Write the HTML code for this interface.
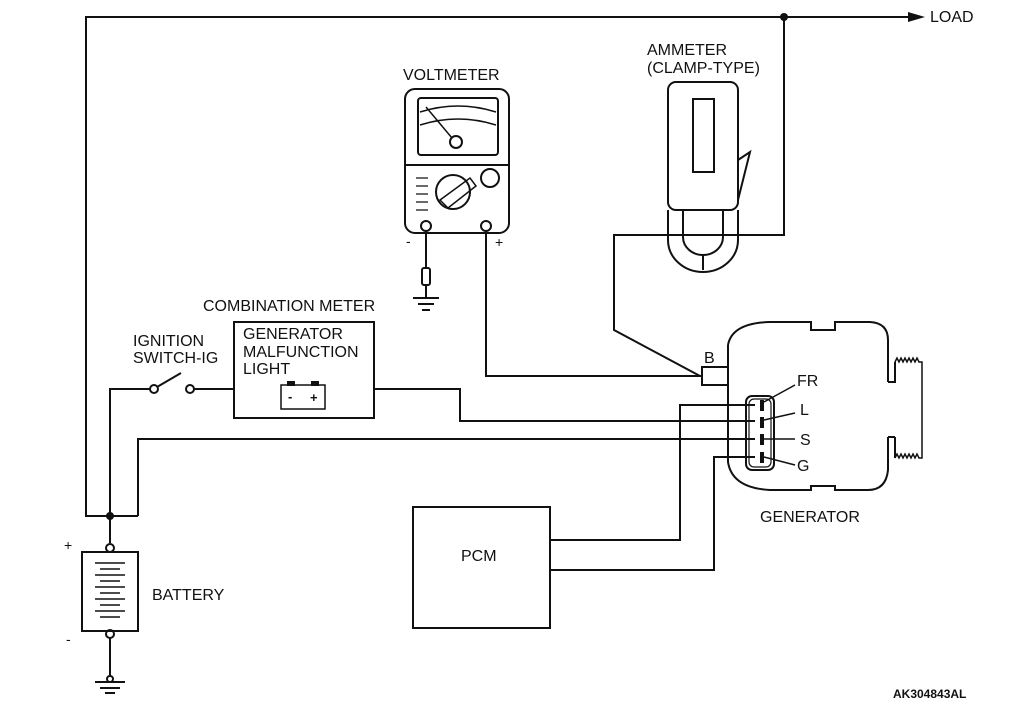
<!DOCTYPE html>
<html><head><meta charset="utf-8"><style>
body{margin:0;background:#fff;}
svg{display:block;font-family:"Liberation Sans",sans-serif;}
text{font-size:16px;fill:#111;}
</style></head><body>
<svg width="1010" height="707" viewBox="0 0 1010 707" xmlns="http://www.w3.org/2000/svg">
<g fill="none" stroke="#111" stroke-width="2">
<polyline points="110,516 86,516 86,17 910,17"/>
<polyline points="784,17 784,235 614,235 614,330 700,376"/>
<line x1="110" y1="516" x2="138" y2="516"/>
<line x1="110" y1="516" x2="110" y2="543"/>
<polyline points="110,516 110,389 150,389"/>
<polyline points="138,516 138,439 755,439"/>
<circle cx="154" cy="389" r="4"/>
<line x1="157" y1="387" x2="181" y2="373"/>
<circle cx="190" cy="389" r="4"/>
<line x1="194" y1="389" x2="234" y2="389"/>
<rect x="234" y="322" width="140" height="96"/>
<polyline points="374,389 460,389 460,421 755,421"/>
<rect x="281" y="385" width="44" height="24" stroke-width="1.5"/>
<rect x="405" y="89" width="104" height="144" rx="10"/>
<rect x="418" y="98" width="80" height="57" rx="3"/>
<line x1="405" y1="165" x2="509" y2="165"/>
<path d="M420 112 Q458 100 496 112" stroke-width="1.5"/>
<path d="M420 125 Q458 113 496 125" stroke-width="1.5"/>
<line x1="426" y1="107" x2="452" y2="138" stroke-width="1.5"/>
<circle cx="456" cy="142" r="6"/>
<circle cx="453" cy="192" r="17"/>
<circle cx="490" cy="178" r="9"/>
<path d="M440 200 L470 178 L476 186 L448 208 Z" stroke-width="1.5"/>
<path d="M416 178 h12 M416 186 h12 M416 194 h12 M416 202 h12 M416 210 h12" stroke-width="1.2"/>
<circle cx="426" cy="226" r="5"/>
<circle cx="486" cy="226" r="5"/>
<line x1="426" y1="231" x2="426" y2="268"/>
<rect x="422" y="268" width="8" height="17" rx="2"/>
<line x1="426" y1="285" x2="426" y2="298"/>
<line x1="413" y1="298" x2="439" y2="298"/>
<line x1="418" y1="304" x2="434" y2="304"/>
<line x1="422" y1="310" x2="430" y2="310"/>
<polyline points="486,231 486,376 702,376"/>
<rect x="668" y="82" width="70" height="128" rx="8"/>
<rect x="693" y="99" width="21" height="73"/>
<polyline points="738,160 750,152 738,200"/>
<path d="M668 210 V240 A35 32 0 0 0 738 240 V210"/>
<path d="M683 210 V237 A20 18 0 0 0 723 237 V210"/>
<line x1="703" y1="255" x2="703" y2="270"/>
<path d="M728 345 Q732 323 770 322 H811 V330 H835 V322 H870 Q888 323 888 340 V382 M888 437 V470 Q886 490 868 490 H835 V486 H811 V490 H770 Q732 488 728 462 V345"/>
<path d="M888 382 H895 V362 M895 437 H888 M895 437 V458" />
<path d="M895 362 l2 -4 l2 4 l2 -4 l2 4 l2 -4 l2 4 l2 -4 l2 4 l2 -4 l2 4 l2 -4 l2 4 h3 V458 h-3 l-2 -4 l-2 4 l-2 -4 l-2 4 l-2 -4 l-2 4 l-2 -4 l-2 4 l-2 -4 l-2 4 l-2 -4 l-2 4" stroke-width="1.5"/>
<rect x="702" y="367" width="26" height="18"/>
<rect x="746" y="396" width="28" height="74" rx="6"/>
<rect x="749" y="399" width="22" height="68" rx="5" stroke-width="1.2"/>
<g stroke-width="4"><line x1="762" y1="400" x2="762" y2="411"/><line x1="762" y1="417" x2="762" y2="428"/><line x1="762" y1="434" x2="762" y2="445"/><line x1="762" y1="452" x2="762" y2="463"/></g>
<line x1="764" y1="402" x2="795" y2="385" stroke-width="1.5"/>
<line x1="764" y1="420" x2="795" y2="413" stroke-width="1.5"/>
<line x1="764" y1="439" x2="795" y2="439" stroke-width="1.5"/>
<line x1="764" y1="457" x2="795" y2="465" stroke-width="1.5"/>
<polyline points="755,405 680,405 680,540 550,540"/>
<polyline points="755,457 714,457 714,570 550,570"/>
<rect x="413" y="507" width="137" height="121"/>
<circle cx="110" cy="548" r="4"/>
<rect x="82" y="552" width="56" height="79"/>
<circle cx="110" cy="634" r="4"/>
<line x1="110" y1="638" x2="110" y2="676"/>
<circle cx="110" cy="679" r="3"/>
<line x1="95" y1="682" x2="125" y2="682"/>
<line x1="100" y1="688" x2="120" y2="688"/>
<line x1="105" y1="693" x2="115" y2="693"/>
<g stroke-width="1.5"><line x1="95" y1="563" x2="125" y2="563"/><line x1="100" y1="569" x2="120" y2="569"/><line x1="95" y1="575" x2="125" y2="575"/><line x1="100" y1="581" x2="120" y2="581"/><line x1="95" y1="587" x2="125" y2="587"/><line x1="100" y1="593" x2="120" y2="593"/><line x1="95" y1="599" x2="125" y2="599"/><line x1="100" y1="605" x2="120" y2="605"/><line x1="95" y1="611" x2="125" y2="611"/><line x1="100" y1="617" x2="120" y2="617"/></g>
</g>
<circle cx="110" cy="516" r="4" fill="#111"/>
<circle cx="784" cy="17" r="4" fill="#111"/>
<polygon points="908,12 925,17 908,22" fill="#111"/>
<rect x="287" y="381" width="8" height="5" fill="#111"/><rect x="311" y="381" width="8" height="5" fill="#111"/>
<text x="288" y="401" style="font-size:13px;font-weight:bold">-</text><text x="310" y="402" style="font-size:13px;font-weight:bold">+</text>
<text x="930" y="22">LOAD</text>
<text x="647" y="55">AMMETER</text>
<text x="647" y="73">(CLAMP-TYPE)</text>
<text x="403" y="80">VOLTMETER</text>
<text x="406" y="246" style="font-size:14px">-</text>
<text x="495" y="247" style="font-size:14px">+</text>
<text x="203" y="311">COMBINATION METER</text>
<text x="243" y="339">GENERATOR</text>
<text x="243" y="357">MALFUNCTION</text>
<text x="243" y="374">LIGHT</text>
<text x="133" y="346">IGNITION</text>
<text x="133" y="363">SWITCH-IG</text>
<text x="704" y="363">B</text>
<text x="797" y="386">FR</text>
<text x="800" y="415">L</text>
<text x="800" y="445">S</text>
<text x="797" y="471">G</text>
<text x="760" y="522">GENERATOR</text>
<text x="461" y="561">PCM</text>
<text x="152" y="600">BATTERY</text>
<text x="64" y="550" style="font-size:14px">+</text>
<text x="66" y="644" style="font-size:14px">-</text>
<text x="893" y="698" style="font-size:12px;font-weight:bold">AK304843AL</text>
</svg>
</body></html>
